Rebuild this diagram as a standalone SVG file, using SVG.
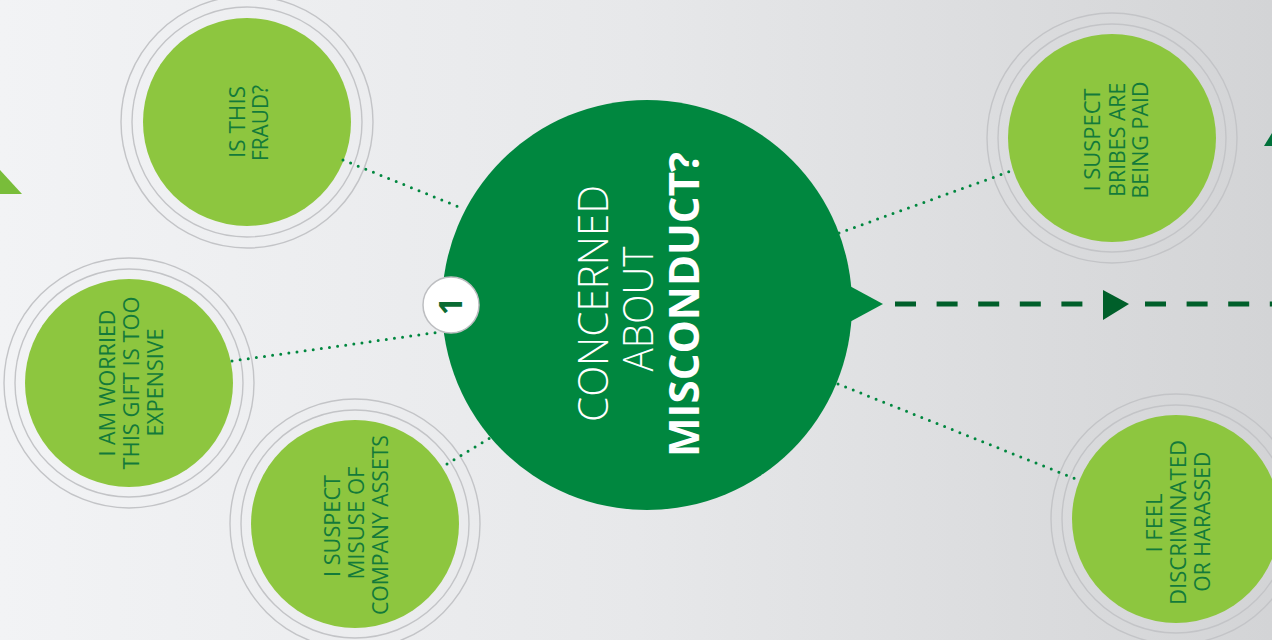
<svg xmlns="http://www.w3.org/2000/svg" width="1272" height="640" viewBox="0 0 1272 640">
<defs>
<linearGradient id="bg" x1="0" y1="0" x2="1" y2="0">
<stop offset="0" stop-color="#f2f3f5"/>
<stop offset="0.5" stop-color="#e7e8ea"/>
<stop offset="1" stop-color="#d3d4d6"/>
</linearGradient>
</defs>
<style>
.ring{fill:none;stroke:#c3c4c7;stroke-width:1.4}
.sat{fill:#8dc63f}
.st{font-family:"Open Sans","Noto Sans","DejaVu Sans",sans-serif;font-weight:400;font-size:22.5px;fill:#137a3a;text-anchor:middle}
.tt{font-family:"Open Sans","Noto Sans","DejaVu Sans",sans-serif;font-size:42px;fill:#ffffff;text-anchor:middle}
.dot{fill:none;stroke:#00873f;stroke-width:3;stroke-linecap:round;stroke-dasharray:0 8.2}
</style>
<rect width="1272" height="640" fill="url(#bg)"/>
<polygon points="0,170 22,194 0,194" fill="#79bd3a"/>
<polygon points="1264,146 1272,133 1272,146" fill="#00703a"/>

<g id="node-fraud">
<circle class="ring" cx="247" cy="122" r="126"/>
<circle class="ring" cx="247" cy="122" r="115"/>
<circle class="sat" cx="247" cy="122" r="104"/>
<text class="st" transform="translate(245,122) rotate(-90)" textLength="72" lengthAdjust="spacingAndGlyphs">IS THIS</text>
<text class="st" transform="translate(268,123) rotate(-90)" textLength="76" lengthAdjust="spacingAndGlyphs">FRAUD?</text>
</g>

<g id="node-gift">
<circle class="ring" cx="129" cy="383" r="125"/>
<circle class="ring" cx="129" cy="383" r="114"/>
<circle class="sat" cx="129" cy="383" r="104"/>
<text class="st" transform="translate(115,383) rotate(-90)" textLength="147" lengthAdjust="spacingAndGlyphs">I AM WORRIED</text>
<text class="st" transform="translate(139,383) rotate(-90)" textLength="173" lengthAdjust="spacingAndGlyphs">THIS GIFT IS TOO</text>
<text class="st" transform="translate(163,382.5) rotate(-90)" textLength="108" lengthAdjust="spacingAndGlyphs">EXPENSIVE</text>
</g>

<g id="node-assets">
<circle class="ring" cx="355" cy="524" r="125"/>
<circle class="ring" cx="355" cy="524" r="114"/>
<circle class="sat" cx="355" cy="524" r="104"/>
<text class="st" transform="translate(340,526) rotate(-90)" textLength="102" lengthAdjust="spacingAndGlyphs">I SUSPECT</text>
<text class="st" transform="translate(363.5,523) rotate(-90)" textLength="113" lengthAdjust="spacingAndGlyphs">MISUSE OF</text>
<text class="st" transform="translate(388,525) rotate(-90)" textLength="180" lengthAdjust="spacingAndGlyphs">COMPANY ASSETS</text>
</g>

<g id="node-bribes">
<circle class="ring" cx="1112" cy="138" r="125"/>
<circle class="ring" cx="1112" cy="138" r="114"/>
<circle class="sat" cx="1112" cy="138" r="104"/>
<text class="st" transform="translate(1100,140) rotate(-90)" textLength="103" lengthAdjust="spacingAndGlyphs">I SUSPECT</text>
<text class="st" transform="translate(1125,139.7) rotate(-90)" textLength="114" lengthAdjust="spacingAndGlyphs">BRIBES ARE</text>
<text class="st" transform="translate(1148,140) rotate(-90)" textLength="117" lengthAdjust="spacingAndGlyphs">BEING PAID</text>
</g>

<g id="node-harassed">
<circle class="ring" cx="1176" cy="519" r="125"/>
<circle class="ring" cx="1176" cy="519" r="114"/>
<circle class="sat" cx="1176" cy="519" r="104"/>
<text class="st" transform="translate(1162,523) rotate(-90)" textLength="59" lengthAdjust="spacingAndGlyphs">I FEEL</text>
<text class="st" transform="translate(1186,522.5) rotate(-90)" textLength="165" lengthAdjust="spacingAndGlyphs">DISCRIMINATED</text>
<text class="st" transform="translate(1210,521.7) rotate(-90)" textLength="140" lengthAdjust="spacingAndGlyphs">OR HARASSED</text>
</g>

<g id="connectors">
<line class="dot" x1="343" y1="160" x2="464" y2="209"/>
<line class="dot" x1="232" y1="361" x2="440" y2="332"/>
<line class="dot" x1="447" y1="464" x2="490" y2="438"/>
<line class="dot" x1="839" y1="233" x2="1011" y2="171"/>
<line class="dot" x1="838" y1="384" x2="1076" y2="479"/>
<g id="flow-arrow">
<line x1="895" y1="304" x2="1100" y2="304" stroke="#005f2a" stroke-width="5" stroke-dasharray="21 20.6"/>
<polygon points="1103,290 1129,304 1103,320" fill="#005f2a"/>
<line x1="1145" y1="304" x2="1272" y2="304" stroke="#005f2a" stroke-width="5" stroke-dasharray="21 20.6"/>
</g>
</g>

<g id="node-main">
<circle cx="647" cy="305" r="205" fill="#00873f"/>
<polygon points="846,284 883,304 846,324" fill="#00873f"/>
<text class="tt" font-weight="300" transform="translate(608,303.5) rotate(-90)" textLength="237" lengthAdjust="spacingAndGlyphs">CONCERNED</text>
<text class="tt" font-weight="300" transform="translate(653,309) rotate(-90)" textLength="125" lengthAdjust="spacingAndGlyphs">ABOUT</text>
<text class="tt" font-weight="700" transform="translate(699,304.5) rotate(-90)" textLength="305" lengthAdjust="spacingAndGlyphs">MISCONDUCT?</text>
</g>

<g id="badge-1">
<circle cx="451" cy="305" r="28" fill="#ffffff" stroke="#bdbec1" stroke-width="1.5"/>
<text transform="translate(462,306) rotate(-90)" font-family="Open Sans, Noto Sans, DejaVu Sans, sans-serif" font-weight="700" font-size="32" fill="#0a6b33" text-anchor="middle">1</text>
</g>
</svg>
